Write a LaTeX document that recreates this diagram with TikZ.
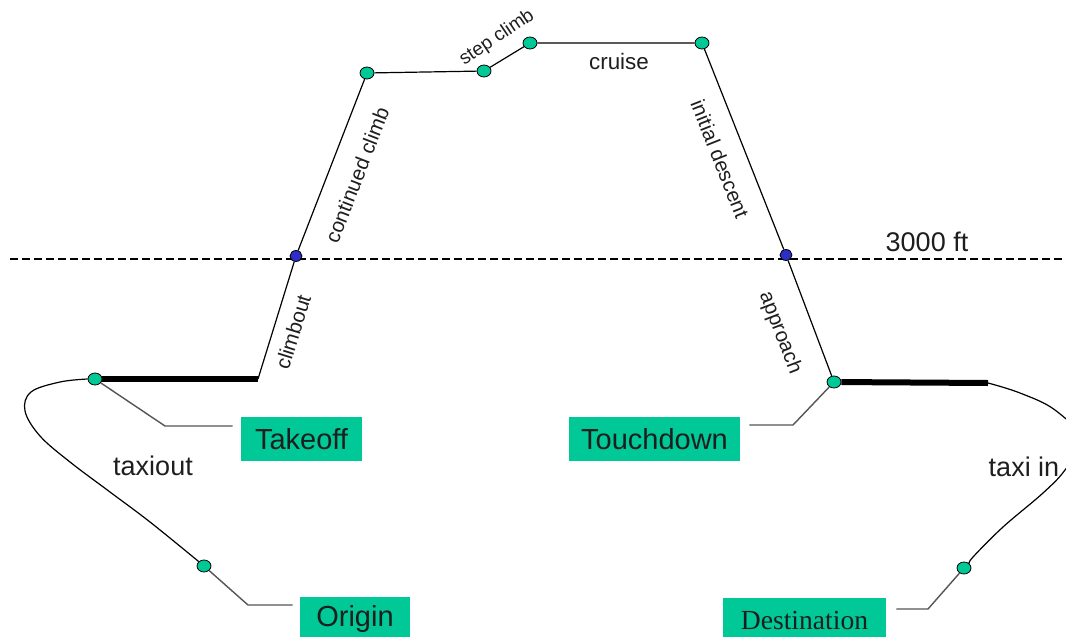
\documentclass[tikz,border=0pt]{standalone}
\usepackage{fontspec}
\setmainfont{Liberation Sans}
\newfontfamily\destfont{Liberation Serif}
\usetikzlibrary{shapes.geometric}
\definecolor{phasegreen}{RGB}{0,200,150}
\definecolor{phaseblue}{RGB}{45,45,200}
\definecolor{leadergray}{RGB}{85,85,85}
\definecolor{labeltext}{RGB}{30,30,30}
\tikzset{
	gdot/.style={ellipse,draw=black,fill=phasegreen,line width=0.4pt,minimum width=7pt,minimum height=6pt,inner sep=0pt},
	bdot/.style={ellipse,draw=black,fill=phaseblue,line width=0.4pt,minimum width=6pt,minimum height=5.5pt,inner sep=0pt},
	phasebox/.style={fill=phasegreen,text=labeltext,minimum height=22pt,inner sep=0pt,font=\fontsize{14.5}{16}\selectfont},
	flightline/.style={black,line width=0.6pt},
	runway/.style={black,line width=3pt},
	leader/.style={leadergray,line width=0.7pt},
	altline/.style={black,line width=0.9pt,dash pattern=on 4pt off 2pt},
	phaselabel/.style={text=labeltext,inner sep=0pt,font=\fontsize{10.3}{12}\selectfont},
	biglabel/.style={text=labeltext,inner sep=0pt,font=\fontsize{13.5}{15}\selectfont}
}
\begin{document}
\begin{tikzpicture}[x=0.5pt,y=-0.5pt]
	\useasboundingbox (0,0) rectangle (1066,637);
	\clip (0,0) rectangle (1066,637);

	\coordinate (ml) at (10,259);
	\coordinate (mr) at (1070,259);
	\draw[altline] (ml) -- (mr);

	\node[gdot] (top1) at (367,73) {};
	\node[gdot] (step1) at (484,71) {};
	\node[gdot] (step2) at (530,43) {};
	\node[gdot] (cruiseend) at (702,43) {};
	\node[bdot] (alt1) at (296,256) {};
	\node[bdot] (alt2) at (786,255) {};
	\node[gdot] (takeoff) at (95,379) {};
	\node[gdot] (touch) at (834,382) {};
	\node[gdot] (orig) at (204,566) {};
	\node[gdot] (dest) at (964,568) {};
	\coordinate (rot) at (258,379);
	\coordinate (rwyend) at (988,383);

	\node[phasebox,minimum width=60.5pt] (takeoffbox) at (301.5,439) {Takeoff};
	\node[phasebox,minimum width=85.5pt] (touchbox) at (654.5,439) {Touchdown};
	\node[phasebox,minimum width=55pt] (origbox) at (355,619) {Origin};
	\node[phasebox,minimum width=81.5pt,font=\destfont\fontsize{13.8}{15}\selectfont] (destbox) at (804.5,620) {Destination};

	\draw[runway] (takeoff) -- (rot);
	\draw[flightline] (rot) -- (alt1) -- (top1) -- (step1) -- (step2) -- (cruiseend) -- (alt2) -- (touch);
	\draw[runway] (touch) -- (rwyend);

	\draw[flightline] plot[smooth,tension=0.6] coordinates {(takeoff.west) (60,382) (31,392) (25,411) (40,436) (70,462) (110,492) (150,522) (orig.140)};
	\draw[flightline] plot[smooth,tension=0.6] coordinates {(rwyend) (1020,393) (1055,410) (1082,440) (1065,470) (1043,493) (1003,527) (973,557) (dest.40)};

	\coordinate (tk1) at (165,426);
	\coordinate (td1) at (793,425);
	\coordinate (or1) at (248,605);
	\coordinate (de1) at (928,609);
	\draw[leader,shorten >=4pt] (takeoff) -- (tk1) -- (tk1 -| takeoffbox.west);
	\draw[leader,shorten >=4.5pt] (touch) -- (td1) -- (td1 -| touchbox.east);
	\draw[leader,shorten >=3.5pt] (orig) -- (or1) -- (or1 -| origbox.west);
	\draw[leader,shorten >=5pt] (dest) -- (de1) -- (de1 -| destbox.east);

	\node[phaselabel,rotate=68.8] (lblcc) at (357,175) {continued climb};
	\node[phaselabel,rotate=72.8] (lblco) at (293,332) {climbout};
	\node[phaselabel,rotate=34,font=\fontsize{9.5}{11}\selectfont] (lblsc) at (497,38) {step climb};
	\node[phaselabel,font=\fontsize{11.2}{13}\selectfont] (lblcr) at (619,61) {cruise};
	\node[phaselabel,rotate=-68.4] (lblid) at (720,159) {initial descent};
	\node[phaselabel,rotate=-69] (lblap) at (780,333) {approach};
	\node[biglabel] (lblalt) at (927,242) {3000 ft};
	\node[biglabel] (lbltxo) at (153,466) {taxiout};
	\node[biglabel] (lbltxi) at (1024,467) {taxi in};
\end{tikzpicture}
\end{document}
